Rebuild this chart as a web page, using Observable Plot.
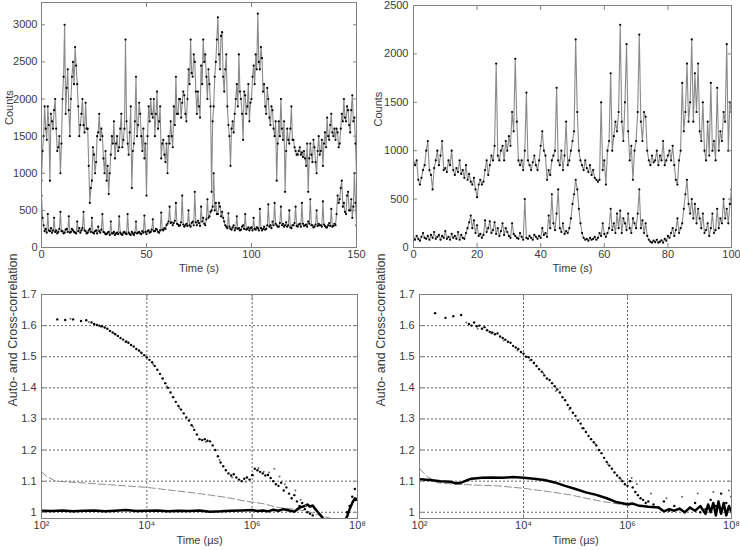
<!DOCTYPE html>
<html><head><meta charset="utf-8">
<script src="https://cdn.jsdelivr.net/npm/d3@7"></script>
<script src="https://cdn.jsdelivr.net/npm/@observablehq/plot@0.6"></script>
<style>
body{margin:0;background:#fff;}
#root{position:relative;width:740px;height:550px;font-family:"Liberation Sans",Arial,sans-serif;overflow:hidden;}
.panel{position:absolute;}
</style></head><body><div id="root"></div>
<script>
// ---------- Top-left trace (0.5 s per sample, 0..150 s) ----------
const tlStep = 0.5;
const tlHigh = [900,1300,1500,1900,1600,1450,1900,1650,900,1800,1700,1600,1850,2000,1600,1300,1350,1500,1000,1400,
2000,2300,3000,1800,2150,2400,1850,1500,2000,2300,2500,2200,2700,2450,2200,1900,1500,1650,1800,2000,
1650,1550,1950,1600,1600,1100,600,800,900,1350,1250,1000,1150,1500,1550,1800,1450,1600,1500,1200,
1000,1300,900,1100,720,1000,1250,1500,1400,1700,1200,1400,1500,1300,1350,1600,1800,1350,1450,1600,
2800,1700,1400,1250,1550,1900,800,1300,1400,1700,2300,1500,1650,1950,1800,1500,1300,1600,1200,1400,
700,1500,1900,1700,2000,1800,1750,2000,1500,1800,2100,1600,1700,1900,1200,1400,1450,1250,1150,1400,
1000,1500,1400,1700,1500,1350,1900,1650,2300,1800,1800,2000,2000,1750,1950,2100,2050,1800,1700,2000,
2400,2200,2800,2350,2300,2600,2500,2100,1800,2100,1900,1750,2450,2200,2800,2500,2600,2300,2000,2400,
2200,1900,750,1700,1900,2300,2500,2800,3100,2600,2400,2850,2900,2300,2100,2400,2600,1900,1650,1500,
1100,1600,1700,1550,1800,2000,2200,1900,2600,2100,2000,1800,1450,2100,2050,1800,1900,2200,1700,1950,
2000,2300,2450,2200,2600,2400,3150,2500,2400,2700,2550,2100,2200,1900,1800,2150,2000,1750,1650,1900,
1850,1600,1500,1700,900,1400,1700,1500,2000,1600,1450,1700,750,1300,1600,1450,1400,1600,1900,1450,
1450,1350,1300,1250,1250,1300,1350,1250,1280,1220,1300,1200,1100,1400,750,1200,1400,1250,1150,1450,
1350,1150,1000,1300,1500,1250,1300,1450,1100,1400,1550,1350,1750,1500,1450,1650,1800,1550,1500,1600,
1450,1600,1550,1350,1400,1600,1800,1700,2000,1750,1700,1900,1850,1650,1550,1850,2050,1700,1750,1400,1000];
const tlLow = [700,400,300,220,250,200,450,230,220,260,200,230,400,210,230,190,210,250,480,220,
220,190,200,240,250,210,420,200,210,250,230,210,200,190,350,220,260,200,230,260,
480,230,220,190,200,230,250,210,400,200,190,220,230,190,280,220,200,240,450,210,
200,180,180,200,210,170,350,190,190,210,170,190,200,180,420,200,180,170,200,210,
190,180,450,200,180,170,210,190,170,200,350,190,200,210,190,180,220,200,430,210,
180,220,230,200,210,240,380,220,220,250,240,210,200,230,470,240,230,260,250,300,
320,350,550,330,340,300,330,360,600,320,310,290,300,340,700,310,280,300,320,290,
500,300,280,330,350,300,750,340,300,360,330,290,550,350,400,320,300,380,650,400,
420,480,500,550,1000,500,600,450,450,600,550,420,480,400,350,300,280,260,460,280,
250,240,270,300,230,260,420,250,260,230,240,280,300,250,450,240,250,270,230,260,
270,230,400,250,240,270,260,230,520,260,230,250,280,240,250,300,580,280,300,260,
350,300,600,320,300,280,280,330,550,300,320,280,300,340,280,300,500,270,260,300,
300,330,550,290,280,310,320,280,600,320,290,300,310,280,350,320,650,300,300,270,
280,310,500,290,320,300,300,280,620,310,290,270,270,300,330,290,520,280,290,320,
300,450,700,600,650,800,900,550,600,480,450,700,750,500,500,650,400,550,1000,600,300];
const tlXTicks = [0,50,100,150];
const tlYTicks = [0,500,1000,1500,2000,2500,3000];

// ---------- Top-right trace (0.5 s per sample, 0..100 s) ----------
const trStep = 0.5;
const trHigh = [880,850,900,700,650,720,800,850,1000,1100,800,750,600,820,900,1000,850,950,1100,800,
820,780,900,850,1000,800,750,820,780,900,760,800,720,850,700,760,680,650,720,600,
520,650,700,650,680,800,900,750,850,950,900,1050,1900,950,900,1000,1050,900,1100,1000,
1150,1050,1400,1200,1950,1300,900,850,900,800,1000,1600,900,850,800,880,950,850,800,900,
1050,1200,1000,950,700,800,750,900,950,1000,1650,900,850,1000,800,950,1300,850,900,1000,
1100,1200,2150,1400,1000,900,850,800,900,820,780,850,750,800,720,700,680,700,1500,800,
900,650,1000,1100,1800,1000,1150,1300,1200,1400,2300,1300,1100,1500,2100,1200,900,1050,700,1000,
1100,1400,2200,1300,1100,1400,1350,1000,900,850,950,880,900,1000,850,950,900,1100,850,900,
950,1000,900,1050,850,700,650,900,1000,1700,1200,1400,1900,1300,1500,2150,1300,1800,1400,1900,
1200,1100,1500,1000,900,1300,950,1700,1000,1100,900,1650,1000,1200,1100,1400,1300,2100,1000,1500,1400];
const trLow = [100,80,120,90,70,110,150,100,90,120,80,130,100,160,90,110,130,80,120,100,
170,90,110,80,140,100,120,90,160,80,130,100,90,150,200,260,330,200,280,150,
230,120,140,100,130,280,160,200,270,150,180,260,140,200,120,170,250,130,200,160,
120,100,250,140,120,100,90,150,110,80,500,100,90,120,100,80,130,110,90,120,
100,200,130,150,110,330,200,550,250,180,350,600,200,160,250,140,170,150,200,300,
450,550,700,600,400,250,150,100,80,90,70,100,80,90,110,80,100,150,120,250,
140,110,150,200,400,180,250,150,350,200,380,150,300,250,180,350,200,150,300,250,
200,350,600,200,280,150,250,120,80,60,50,70,55,80,50,60,75,50,90,70,
120,100,150,200,120,180,300,150,200,250,400,550,700,450,350,500,300,450,250,400,
300,200,350,150,180,250,120,200,350,150,180,400,200,300,250,500,300,400,250,450,600];
const trXTicks = [0,20,40,60,80,100];
const trYTicks = [0,500,1000,1500,2000,2500];

// ---------- Bottom-left correlations (log10 of lag in µs) ----------
const blALog = [2.3,2.45,2.6,2.75,2.85,2.95,3.0,3.05,3.1,3.15,3.2,3.25,3.3,3.35,3.4,3.45,3.5,3.55,3.6,3.65,3.7,3.75,3.8,3.85,3.9,3.95,
4.0,4.05,4.1,4.15,4.2,4.25,4.3,4.35,4.4,4.45,4.5,4.55,4.6,4.65,4.7,4.75,4.8,4.85,4.9,4.95,
5.0,5.05,5.1,5.15,5.2,5.25,5.3,5.35,5.4,5.45,5.5,5.55,5.6,5.65,5.7,5.75,5.8,5.85,5.9,5.95,
6.0,6.05,6.1,6.15,6.2,6.25,6.3,6.35,6.4,6.45,6.5,6.55,6.6,6.65,6.7,6.75,6.8,6.85,6.9,6.95,7.0,7.05,7.1,7.15,7.8,7.85,7.9,7.95];
const blAVal = [1.62,1.618,1.62,1.615,1.617,1.61,1.605,1.602,1.6,1.598,1.594,1.59,1.583,1.578,1.572,1.567,1.56,1.555,1.548,1.545,1.538,1.533,1.525,1.52,1.512,1.505,
1.498,1.49,1.482,1.47,1.458,1.445,1.43,1.415,1.4,1.385,1.37,1.355,1.342,1.33,1.318,1.305,1.295,1.28,1.265,1.25,
1.235,1.232,1.235,1.23,1.228,1.215,1.2,1.18,1.16,1.148,1.135,1.125,1.118,1.122,1.112,1.105,1.1,1.108,1.112,1.105,
1.12,1.14,1.135,1.13,1.125,1.118,1.12,1.11,1.1,1.09,1.085,1.095,1.07,1.08,1.06,1.045,1.055,1.035,1.02,1.03,1.01,1.0,0.995,0.99,1.0,1.02,1.05,1.075];
// second (gray) dotted correlation, scattered around the first
const blDLog = [2.55,2.9,3.12,3.38,3.62,3.88,4.12,4.38,4.62,4.88,5.12,5.38,5.62,5.88,6.02,6.12,6.22,6.32,6.42,6.52,6.62,6.72,6.82,6.92,7.02];
const blDVal = [1.622,1.612,1.596,1.575,1.55,1.515,1.476,1.405,1.335,1.275,1.226,1.168,1.112,1.098,1.118,1.142,1.13,1.128,1.14,1.115,1.09,1.1,1.07,1.04,1.02];
const blBLog = [2.0,2.1,2.27,3.0,4.0,4.5,5.0,5.5,5.9,6.2,6.5,6.8,7.0,7.3,7.5];
const blBVal = [1.13,1.115,1.1,1.092,1.08,1.07,1.06,1.048,1.035,1.028,1.015,1.01,1.005,0.99,0.98];
const blCLog = [2.0,2.2,2.4,2.6,2.8,3.0,3.2,3.4,3.6,3.8,4.0,4.2,4.4,4.6,4.8,5.0,5.2,5.4,5.6,5.8,6.0,6.1,6.2,6.3,6.4,6.5,6.6,6.7,6.8,6.9,7.0,7.05,7.1,7.15,7.2,7.25,7.3,7.35,7.4,7.75,7.8,7.85,7.9,7.95,8.0];
const blCVal = [1.005,1.004,1.006,1.003,1.005,1.006,1.003,1.005,1.007,1.004,1.005,1.006,1.003,1.005,1.004,1.006,1.002,1.003,1.005,1.006,1.007,1.004,1.006,1.003,1.008,1.005,1.01,1.006,1.002,1.015,1.02,1.025,1.018,1.022,1.01,1.0,0.99,0.98,0.97,0.97,0.985,1.01,1.03,1.045,1.04];

// ---------- Bottom-right correlations ----------
const brALog = [2.3,2.5,2.65,2.8,2.95,3.0,3.05,3.1,3.15,3.2,3.25,3.3,3.35,3.4,3.45,3.5,3.55,3.6,3.65,3.7,3.75,3.8,3.85,3.9,3.95,
4.0,4.05,4.1,4.15,4.2,4.25,4.3,4.35,4.4,4.45,4.5,4.55,4.6,4.65,4.7,4.75,4.8,4.85,4.9,4.95,
5.0,5.05,5.1,5.15,5.2,5.25,5.3,5.35,5.4,5.45,5.5,5.55,5.6,5.65,5.7,5.75,5.8,5.85,5.9,5.95,
6.0,6.05,6.1,6.15,6.2,6.25,6.3,6.35,6.4,6.5,6.6,6.7,6.8,6.9,7.0,7.1,7.2,7.3,7.4,7.5,7.6,7.7,7.8,7.9,8.0];
const brAVal = [1.64,1.625,1.63,1.634,1.605,1.6,1.61,1.598,1.6,1.59,1.595,1.585,1.58,1.578,1.572,1.575,1.565,1.56,1.555,1.548,1.545,1.535,1.53,1.525,1.515,
1.51,1.5,1.498,1.49,1.48,1.47,1.46,1.452,1.44,1.43,1.425,1.415,1.405,1.395,1.385,1.37,1.36,1.345,1.335,1.32,
1.31,1.295,1.285,1.27,1.258,1.245,1.235,1.225,1.215,1.2,1.19,1.175,1.162,1.15,1.14,1.128,1.118,1.11,1.1,1.09,
1.085,1.1,1.08,1.065,1.055,1.045,1.04,1.03,1.035,1.025,1.015,1.035,1.005,1.02,1.01,1.0,1.015,1.03,1.0,1.01,1.04,1.02,1.06,1.03,1.05];
const brDLog = [2.9,3.12,3.38,3.62,3.88,4.12,4.38,4.62,4.88,5.12,5.38,5.62,5.88,6.08,6.18,6.45,6.75,7.05,7.35,7.65,7.95];
const brDVal = [1.61,1.59,1.575,1.552,1.52,1.488,1.448,1.39,1.33,1.27,1.22,1.155,1.105,1.11,1.09,1.06,1.045,1.05,1.06,1.065,1.07];
const brBLog = [2.0,2.15,2.34,2.7,3.0,3.5,4.0,4.5,4.9,5.2,5.54,5.93,6.1];
const brBVal = [1.14,1.115,1.095,1.09,1.088,1.085,1.077,1.066,1.056,1.045,1.034,1.024,1.02];
const brCLog = [2.0,2.2,2.4,2.6,2.7,2.8,2.9,3.0,3.2,3.4,3.6,3.8,4.0,4.2,4.4,4.6,4.8,5.0,5.2,5.4,5.6,5.8,6.0,6.1,6.2,6.4,6.6,6.7,6.8,6.9,7.0,7.1,7.2,7.3,7.4,7.5,7.55,7.6,7.65,7.7,7.75,7.8,7.85,7.9,7.95,8.0];
const brCVal = [1.106,1.104,1.1,1.098,1.093,1.095,1.102,1.108,1.111,1.112,1.111,1.113,1.111,1.108,1.104,1.096,1.085,1.075,1.064,1.056,1.045,1.032,1.026,1.028,1.022,1.018,1.015,1.003,1.01,1.005,1.012,1.0,1.015,1.005,1.02,0.995,1.025,1.0,1.03,0.99,1.035,0.995,1.03,0.99,1.02,1.0];

const corrXTicks = [1e2,1e4,1e6,1e8];
const corrYTicks = [1,1.1,1.2,1.3,1.4,1.5,1.6,1.7];
const supers = {2:"²",4:"⁴",6:"⁶",8:"⁸"};
const fmtPow = d => "10" + supers[Math.round(Math.log10(d))];
const fmtCorr = d => String(+d.toFixed(1));

const root = document.getElementById("root");
const TXT = "#3a3a3a";
const FONT = 11;

function panel(o) {
  const m = [];
  if (o.grid) {
    m.push(Plot.gridX(o.xTicks, {stroke:"#666", strokeOpacity:1, strokeDasharray:"2,2"}));
    m.push(Plot.gridY(o.yTicks, {stroke:"#666", strokeOpacity:1, strokeDasharray:"2,2"}));
  }
  m.push(...o.marks);
  m.push(Plot.frame({stroke:"#808080"}));
  const tk = {tickSize:4, tickFormat:() => "", stroke:"#808080", label:null};
  m.push(Plot.axisX(o.xTicks, {anchor:"bottom", dy:-4, ...tk}));
  m.push(Plot.axisX(o.xTicks, {anchor:"top", dy:4, ...tk}));
  m.push(Plot.axisY(o.yTicks, {anchor:"left", dx:4, ...tk}));
  m.push(Plot.axisY(o.yTicks, {anchor:"right", dx:-4, ...tk}));
  m.push(Plot.axisX(o.xTicks, {anchor:"bottom", tickSize:0, tickPadding:3, tickFormat:o.xFormat, fontSize:FONT, fill:TXT, label:null}));
  m.push(Plot.axisY(o.yTicks, {anchor:"left", tickSize:0, tickPadding:o.yPad, tickFormat:o.yFormat, fontSize:FONT, fill:TXT, label:null}));
  m.push(Plot.text([o.xlabel], {text:d=>d, frameAnchor:"bottom", dy:o.xdy, lineAnchor:"middle", fontSize:FONT, fill:TXT}));
  m.push(Plot.text([o.ylabel], {text:d=>d, frameAnchor:"left", rotate:-90, dx:o.ydx, lineAnchor:"middle", fontSize:o.yFont, fill:TXT}));
  const svg = Plot.plot({
    width:o.width, height:o.height,
    marginLeft:o.ml, marginRight:o.mr, marginTop:o.mt, marginBottom:o.mb,
    x:o.x, y:o.y,
    style:{fontFamily:'"Liberation Sans", Arial, sans-serif', background:"#fff", overflow:"visible"},
    marks:m
  });
  const div = document.createElement("div");
  div.className = "panel";
  div.style.left = o.left + "px";
  div.style.top = o.top + "px";
  div.appendChild(svg);
  root.appendChild(div);
}

function traceMarks(high, low, step) {
  const H = high.map((v,i) => ({t:i*step, v}));
  const L = low.map((v,i) => ({t:i*step, v}));
  return [
    Plot.line(H, {x:"t", y:"v", stroke:"#8a8a8a", strokeWidth:1.1, clip:true}),
    Plot.dot(H, {x:"t", y:"v", r:1.1, fill:"#000", stroke:null, clip:true}),
    Plot.line(L, {x:"t", y:"v", stroke:"#8a8a8a", strokeWidth:1.1, clip:true}),
    Plot.dot(L, {x:"t", y:"v", r:1.1, fill:"#000", stroke:null, clip:true})
  ];
}

function corrMarks(aL, aV, dL, dV, bL, bV, cL, cV) {
  const A = aL.map((l,i) => ({x:10**l, y:aV[i]}));
  const D = dL.map((l,i) => ({x:10**l, y:dV[i]}));
  const B = bL.map((l,i) => ({x:10**l, y:bV[i]}));
  const C = cL.map((l,i) => ({x:10**l, y:cV[i]}));
  return [
    Plot.line(B, {x:"x", y:"y", stroke:"#8c8c8c", strokeWidth:1, strokeDasharray:"7,3", clip:true}),
    Plot.line(C, {x:"x", y:"y", stroke:"#000", strokeWidth:2.5, clip:true}),
    Plot.dot(D, {x:"x", y:"y", r:1, fill:"#666", stroke:null, clip:true}),
    Plot.dot(A, {x:"x", y:"y", r:1.2, fill:"#000", stroke:null, clip:true})
  ];
}

panel({left:0, top:0, width:370, height:275, ml:41, mr:14, mt:2, mb:28,
  x:{domain:[0,150]}, y:{domain:[0,3300]},
  xTicks:tlXTicks, yTicks:tlYTicks, xFormat:d=>String(d), yFormat:d=>String(d), yPad:4,
  xlabel:"Time (s)", xdy:21, ylabel:"Counts", ydx:-32, yFont:11,
  marks:traceMarks(tlHigh, tlLow, tlStep)});

panel({left:370, top:0, width:370, height:275, ml:43, mr:9, mt:5, mb:28,
  x:{domain:[0,100]}, y:{domain:[0,2500]},
  xTicks:trXTicks, yTicks:trYTicks, xFormat:d=>String(d), yFormat:d=>String(d), yPad:5,
  xlabel:"Time (s)", xdy:21, ylabel:"Counts", ydx:-35, yFont:11,
  marks:traceMarks(trHigh, trLow, trStep)});

panel({left:0, top:275, width:370, height:275, ml:41, mr:13, mt:19, mb:32, grid:true,
  x:{type:"log", domain:[1e2,1e8]}, y:{domain:[0.98,1.7]},
  xTicks:corrXTicks, yTicks:corrYTicks, xFormat:fmtPow, yFormat:fmtCorr, yPad:5,
  xlabel:"Time (µs)", xdy:22, ylabel:"Auto- and Cross-correlation", ydx:-29, yFont:12.5,
  marks:corrMarks(blALog, blAVal, blDLog, blDVal, blBLog, blBVal, blCLog, blCVal)});

panel({left:370, top:275, width:370, height:275, ml:49, mr:9, mt:19, mb:32, grid:true,
  x:{type:"log", domain:[1e2,1e8]}, y:{domain:[0.98,1.7]},
  xTicks:corrXTicks, yTicks:corrYTicks, xFormat:fmtPow, yFormat:fmtCorr, yPad:5,
  xlabel:"Time (µs)", xdy:22, ylabel:"Auto- and Cross-correlation", ydx:-39, yFont:12.5,
  marks:corrMarks(brALog, brAVal, brDLog, brDVal, brBLog, brBVal, brCLog, brCVal)});
</script>
</body></html>
